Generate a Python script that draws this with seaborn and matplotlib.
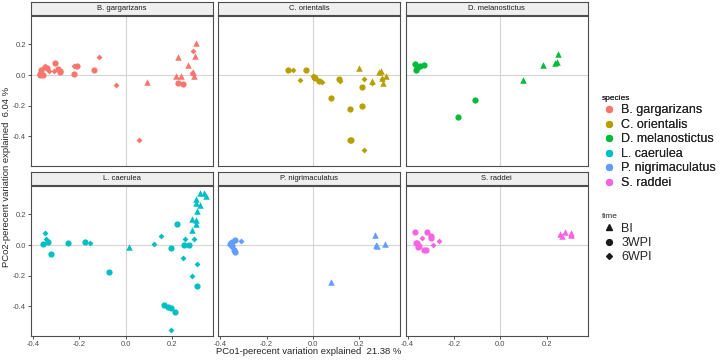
import numpy as np
import pandas as pd
import matplotlib
matplotlib.use("Agg")
import matplotlib.pyplot as plt
from matplotlib.lines import Line2D
import seaborn as sns

sns.set_style("white")
plt.rcParams['font.family'] = ['Liberation Sans', 'DejaVu Sans']

species = ["B. gargarizans", "C. orientalis", "D. melanostictus",
           "L. caerulea", "P. nigrimaculatus", "S. raddei"]
times = ["BI", "3WPI", "6WPI"]
palette = ["#F8766D", "#B79F00", "#00BA38", "#00BFC4", "#619CFF", "#F564E3"]

# B. gargarizans
bg_bi = [(0.092, -0.044), (0.228, 0.116), (0.217, -0.004), (0.239, -0.009), (0.269, 0.068),
         (0.302, 0.207), (0.300, 0.127), (0.290, 0.018), (0.295, -0.009)]
bg_3w = [(-0.371, 0.009), (-0.364, 0.035), (-0.356, 0.0), (-0.339, 0.046), (-0.306, 0.079),
         (-0.293, 0.040), (-0.282, 0.022), (-0.221, 0.009), (-0.210, 0.057), (-0.138, 0.031),
         (0.224, -0.053), (0.247, -0.057), (-0.368, 0.002), (-0.281, 0.024)]
bg_6w = [(-0.353, 0.053), (-0.346, 0.062), (-0.329, 0.024), (-0.310, 0.024), (-0.224, 0.057),
         (-0.116, 0.119), (-0.040, -0.066), (0.056, -0.426), (0.289, 0.156), (0.286, 0.013)]

# C. orientalis
co_bi = [(0.197, 0.048), (0.283, 0.018), (0.293, 0.024), (0.256, -0.040), (0.302, -0.051),
         (0.316, -0.004), (0.299, -0.020)]
co_3w = [(-0.109, 0.033), (-0.029, 0.035), (0.004, -0.015), (0.026, -0.042), (0.112, -0.026),
         (0.080, -0.147), (0.213, -0.079), (0.210, -0.202), (0.162, -0.224), (0.158, -0.426),
         (0.010, -0.020), (0.165, -0.424)]
co_6w = [(-0.085, 0.031), (-0.056, -0.035), (0.0, -0.009), (0.040, -0.048), (0.119, -0.040),
         (0.220, -0.026), (0.253, -0.053), (0.299, -0.024), (0.220, -0.492)]

# D. melanostictus
dm_bi = [(0.097, -0.035), (0.184, 0.067), (0.238, 0.078), (0.250, 0.139), (0.246, 0.085)]
dm_3w = [(-0.369, 0.075), (-0.365, 0.031), (-0.358, 0.046), (-0.348, 0.057), (-0.330, 0.066),
         (-0.109, -0.165), (-0.184, -0.277)]
dm_6w = []

# L. caerulea
lc_bi = [(0.014, -0.013), (0.286, 0.099), (0.287, 0.169), (0.305, 0.165), (0.302, 0.138),
         (0.310, 0.220), (0.305, 0.275), (0.319, 0.264), (0.305, 0.301), (0.322, 0.341),
         (0.339, 0.341), (0.346, 0.319)]
lc_3w = [(-0.358, 0.007), (-0.335, 0.020), (-0.323, -0.057), (-0.249, 0.015), (-0.177, 0.018),
         (-0.072, -0.178), (0.164, -0.389), (0.181, -0.407), (0.194, -0.411), (0.211, -0.435),
         (0.195, -0.018), (0.220, 0.138), (0.250, 0.0), (0.273, 0.002), (0.307, -0.266)]
lc_6w = [(-0.346, 0.077), (-0.343, 0.037), (-0.155, 0.011), (0.124, 0.007), (0.151, 0.057),
         (0.247, -0.086), (0.257, 0.037), (0.296, 0.037), (0.286, -0.204), (0.307, -0.125),
         (0.194, -0.558)]

# P. nigrimaculatus
pn_bi = [(0.269, 0.068), (0.272, 0.002), (0.277, -0.007), (0.312, 0.007), (0.076, -0.240)]
pn_3w = [(-0.355, 0.011), (-0.347, -0.007), (-0.340, -0.033), (-0.336, -0.044), (-0.350, 0.022),
         (-0.359, 0.005), (-0.338, 0.030)]
pn_6w = [(-0.312, 0.028)]

# S. raddei
sr_bi = [(0.256, 0.072), (0.268, 0.059), (0.281, 0.085), (0.303, 0.078), (0.307, 0.065)]
sr_3w = [(-0.368, 0.084), (-0.365, 0.011), (-0.358, 0.015), (-0.355, -0.015), (-0.322, -0.035),
         (-0.316, 0.086), (-0.300, 0.062), (-0.297, 0.044), (-0.350, -0.008), (-0.327, -0.030)]
sr_6w = [(-0.338, 0.044), (-0.292, -0.002), (-0.264, 0.029)]

groups = {
    "B. gargarizans": (bg_bi, bg_3w, bg_6w),
    "C. orientalis": (co_bi, co_3w, co_6w),
    "D. melanostictus": (dm_bi, dm_3w, dm_6w),
    "L. caerulea": (lc_bi, lc_3w, lc_6w),
    "P. nigrimaculatus": (pn_bi, pn_3w, pn_6w),
    "S. raddei": (sr_bi, sr_3w, sr_6w),
}
rows = []
for sp, sets in groups.items():
    for t, pts in zip(times, sets):
        for x, y in pts:
            rows.append({"species": sp, "time": t, "PCo1": x, "PCo2": y})
df = pd.DataFrame(rows)

markers = {"BI": "^", "3WPI": "o", "6WPI": "D"}
sizes = {"BI": 22, "3WPI": 20, "6WPI": 9}

fig = plt.figure(figsize=(7.22, 3.61), dpi=100)
W, H = 722, 361
lefts = [31, 218.3, 405.7]
pw, ph = 182, 150
tops = [15.7, 185.7]
strip_h = 13.5

for i, sp in enumerate(species):
    r, c = divmod(i, 3)
    x0 = lefts[c]
    y0 = tops[r]
    ax = fig.add_axes([x0 / W, 1 - (y0 + ph) / H, pw / W, ph / H])
    ax.axvline(0, color="#D4D4D4", lw=0.8, zorder=0)
    ax.axhline(0, color="#D4D4D4", lw=0.8, zorder=0)
    sub = df[df.species == sp]
    for t in times:
        st = sub[sub.time == t]
        if len(st):
            sns.scatterplot(data=st, x="PCo1", y="PCo2", color=palette[i],
                            marker=markers[t], s=sizes[t], linewidth=0,
                            ax=ax, legend=False)
    ax.set_xlim(-0.408, 0.377)
    ax.set_ylim(-0.593, 0.388)
    ax.set_xticks([-0.4, -0.2, 0.0, 0.2])
    ax.set_yticks([-0.4, -0.2, 0.0, 0.2])
    ax.set_xlabel("")
    ax.set_ylabel("")
    ax.tick_params(axis="both", length=2, width=0.6, color="#333333",
                   labelsize=5.5, labelcolor="#4D4D4D", pad=1.5)
    ax.tick_params(bottom=True, left=True)
    if r == 0:
        ax.tick_params(labelbottom=False, bottom=False)
    else:
        ax.set_xticklabels(["-0.4", "-0.2", "0.0", "0.2"])
    if c > 0:
        ax.tick_params(labelleft=False, left=False)
    else:
        ax.set_yticklabels(["-0.4", "-0.2", "0.0", "0.2"])
    for s in ax.spines.values():
        s.set_color("#4D4D4D")
        s.set_linewidth(0.8)
    # strip
    sax = fig.add_axes([x0 / W, 1 - (y0 - 0.3) / H, pw / W, (strip_h - 0.3) / H])
    sax.set_facecolor("#EFEFEF")
    sax.set_xticks([])
    sax.set_yticks([])
    for s in sax.spines.values():
        s.set_color("#4D4D4D")
        s.set_linewidth(0.8)
    sax.text(0.5, 0.5, sp, ha="center", va="center", fontsize=5.5, color="#1A1A1A",
             transform=sax.transAxes)

fig.text(309 / W, 1 - 352 / H, "PCo1-perecent variation explained  21.38 %",
         ha="center", va="center", fontsize=6.8)
fig.text(7 / W, 1 - 177 / H, "PCo2-perecent variation explained  6.04 %",
         ha="center", va="center", rotation=90, fontsize=6.8)

sp_handles = [Line2D([], [], marker="o", ls="", color=palette[k], markersize=4.2)
              for k in range(len(species))]
leg1 = fig.legend(sp_handles, species, loc="upper left", bbox_to_anchor=(597 / W, 1 - 90 / H),
                  title="species", title_fontsize=6, fontsize=9, frameon=False,
                  labelspacing=0.2, handletextpad=0.45, handlelength=1.1,
                  alignment="left", borderaxespad=0)
tm_handles = [Line2D([], [], marker=markers[t], ls="", color="#1A1A1A",
                     markersize=4.2 if t != "6WPI" else 3) for t in times]
leg2 = fig.legend(tm_handles, times, loc="upper left", bbox_to_anchor=(597 / W, 1 - 208 / H),
                  title="time", title_fontsize=6, fontsize=9, frameon=False,
                  labelspacing=0.2, handletextpad=0.45, handlelength=1.1,
                  alignment="left", borderaxespad=0)
fig.add_artist(leg1)

fig.savefig("out.png", dpi=100)
